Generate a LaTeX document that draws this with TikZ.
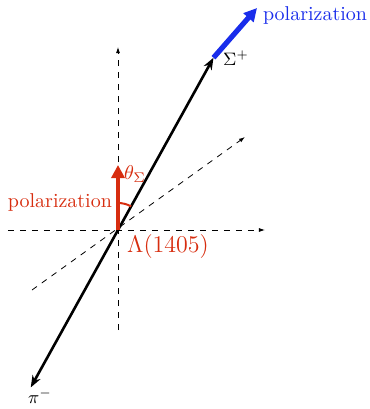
\documentclass[tikz,border=0pt]{standalone}
\usepackage{tikz}
\usetikzlibrary{arrows.meta}

\definecolor{polred}{RGB}{215,45,15}
\definecolor{polblue}{RGB}{25,45,235}

\begin{document}
\begin{tikzpicture}[x=0.5pt,y=0.5pt,
  axis/.style={black, line width=0.4pt, dashed, -{Latex[length=3pt, width=2pt]}},
  track/.style={black, line width=1.3pt, -{Stealth[length=6pt, width=4.5pt]}},
  polarrow/.style={line width=2.6pt, -{Triangle[length=6.5pt, width=6.5pt]}}]
\useasboundingbox (-118,-179) rectangle (252,230);
% axes
\coordinate (O) at (0,0);
\coordinate (xl) at (-110,0);
\coordinate (xr) at (147,0);
\coordinate (yb) at (0,-100);
\coordinate (yt) at (0,183);
\coordinate (zb) at (-86,-60);
\coordinate (zt) at (127,93);
\draw[axis] (xl) -- (xr);
\draw[axis] (yb) -- (yt);
\draw[axis] (zb) -- (zt);
% decay tracks
\coordinate (sig) at (61:197);
\coordinate (pim) at (241:180);
\draw[track] (O) -- (sig);
\draw[track] (O) -- (pim);
\node[font=\small] (siglab) at (118,172) {$\Sigma^+$};
\node[font=\small] (pilab) at (-78,-166) {$\pi^-$};
% Sigma polarization
\coordinate (sigpol) at (139,222);
\draw[polarrow, polblue] (sig) -- (sigpol);
\node[polblue, anchor=west] (bluelab) at (138,215) {polarization};
% Lambda polarization
\coordinate (lampol) at (0,65);
\draw[polarrow, polred, line width=2pt] (O) -- (lampol);
\draw[polred, line width=1pt] (0,27) arc[start angle=90, end angle=61, radius=27];
\node[polred, anchor=east] (redlab) at (1,28) {polarization};
\node[polred] (thlab) at (17,56) {$\theta_\Sigma$};
\node[polred, font=\large] (lamlab) at (50,-16) {$\Lambda(1405)$};
\end{tikzpicture}
\end{document}
